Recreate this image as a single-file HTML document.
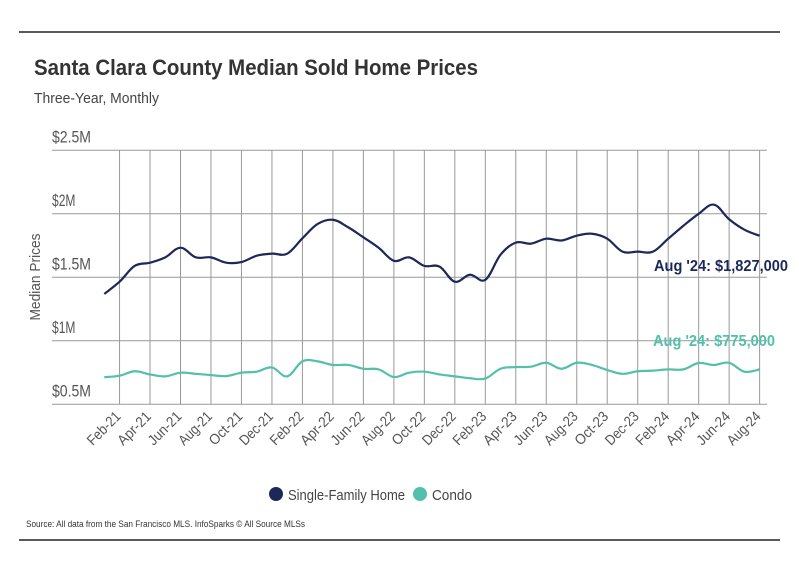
<!DOCTYPE html>
<html><head><meta charset="utf-8"><style>
html,body{margin:0;padding:0;background:#fff;}
svg{display:block;font-family:"Liberation Sans",sans-serif;}
</style></head><body>
<svg id="chart" width="799" height="575" viewBox="0 0 799 575">
<line x1="19" y1="32" x2="780" y2="32" stroke="#222" stroke-width="1.5"/>
<text x="34" y="75" font-size="22" font-weight="bold" fill="#333" textLength="444" lengthAdjust="spacingAndGlyphs">Santa Clara County Median Sold Home Prices</text>
<text x="34" y="103" font-size="15" fill="#444" textLength="125" lengthAdjust="spacingAndGlyphs">Three-Year, Monthly</text>
<text transform="translate(40,277) rotate(-90)" text-anchor="middle" font-size="15" fill="#555" textLength="87" lengthAdjust="spacingAndGlyphs">Median Prices</text>
<g id="grid"></g>
<g id="series"></g>
<text x="654" y="271" font-size="16" font-weight="bold" fill="#1c2859" textLength="134" lengthAdjust="spacingAndGlyphs">Aug '24: $1,827,000</text>
<text x="653" y="346" font-size="16" font-weight="bold" fill="#52c0aa" textLength="122" lengthAdjust="spacingAndGlyphs">Aug '24: $775,000</text>
<g>
<circle cx="276" cy="494" r="7" fill="#1c2859"/>
<text x="288" y="500" font-size="15" fill="#444" textLength="117" lengthAdjust="spacingAndGlyphs">Single-Family Home</text>
<circle cx="420" cy="494" r="7" fill="#52c0aa"/>
<text x="432" y="500" font-size="15" fill="#444" textLength="40" lengthAdjust="spacingAndGlyphs">Condo</text>
</g>
<text x="26" y="527" font-size="9" fill="#333" textLength="279" lengthAdjust="spacingAndGlyphs">Source:  All data from the San Francisco MLS. InfoSparks © All Source MLSs</text>
<line x1="19" y1="540" x2="780" y2="540" stroke="#222" stroke-width="1.5"/>
</svg>
<script>
const months = ["Jan-21","Feb-21","Mar-21","Apr-21","May-21","Jun-21","Jul-21","Aug-21","Sep-21","Oct-21","Nov-21","Dec-21","Jan-22","Feb-22","Mar-22","Apr-22","May-22","Jun-22","Jul-22","Aug-22","Sep-22","Oct-22","Nov-22","Dec-22","Jan-23","Feb-23","Mar-23","Apr-23","May-23","Jun-23","Jul-23","Aug-23","Sep-23","Oct-23","Nov-23","Dec-23","Jan-24","Feb-24","Mar-24","Apr-24","May-24","Jun-24","Jul-24","Aug-24"];
const sfhValues = [1.369,1.465,1.59,1.615,1.657,1.733,1.657,1.657,1.615,1.62,1.67,1.686,1.686,1.807,1.92,1.953,1.894,1.815,1.733,1.63,1.657,1.59,1.584,1.465,1.52,1.48,1.678,1.773,1.765,1.804,1.79,1.828,1.843,1.804,1.702,1.702,1.702,1.804,1.906,2.0,2.072,1.957,1.875,1.827];
const condoValues = [0.713,0.725,0.76,0.735,0.72,0.749,0.74,0.73,0.722,0.749,0.757,0.79,0.72,0.838,0.838,0.81,0.81,0.78,0.775,0.715,0.749,0.757,0.735,0.72,0.705,0.703,0.78,0.793,0.796,0.827,0.78,0.827,0.81,0.77,0.74,0.76,0.765,0.775,0.775,0.825,0.81,0.827,0.757,0.775];
const yTicks = [0.5,1,1.5,2,2.5];
const yTickLabels = ["$0.5M","$1M","$1.5M","$2M","$2.5M"];

const NS="http://www.w3.org/2000/svg";
const x0=104.3, dx=15.24, yBase=404.3, pxPerM=127;
const xs=i=>x0+i*dx;
const ys=v=>yBase-(v-0.5)*pxPerM;
const grid=document.getElementById('grid'), series=document.getElementById('series');
function mk(tag,attrs,parent){const e=document.createElementNS(NS,tag);for(const k in attrs)e.setAttribute(k,attrs[k]);parent.appendChild(e);return e;}

yTicks.forEach((t,i)=>{
  const l=mk('line',{x1:52,x2:767,y1:ys(t),y2:ys(t),stroke:'#999','stroke-width':1},grid);
  
  
  const tx=mk('text',{x:52,y:ys(t)-8,'font-size':17,fill:'#555',textLength:yTickLabels[i].length*7.8,lengthAdjust:'spacingAndGlyphs'},grid);
  tx.textContent=yTickLabels[i];
  
  
});
months.forEach((m,i)=>{
  if(i%2===0) return;
  const x=xs(i);
  const l=mk('line',{x1:x,x2:x,y1:ys(2.5),y2:yBase,stroke:'#999','stroke-width':1},grid);
  
  
  const tx=mk('text',{transform:`translate(${x+2},${yBase+13}) rotate(-45)`,'text-anchor':'end','font-size':14.5,fill:'#555',textLength:m.length*6.8,lengthAdjust:'spacingAndGlyphs'},grid);
  tx.textContent=m;
  
  
});
function smooth(vals){
  const p=vals.map((v,i)=>[xs(i),ys(v)]);
  let d=`M${p[0][0]},${p[0][1]}`;
  for(let i=0;i<p.length-1;i++){
    const a=p[i-1]||p[i],b=p[i],c=p[i+1],e=p[i+2]||c;
    const t=0.18;
    d+=` C${b[0]+(c[0]-a[0])*t},${b[1]+(c[1]-a[1])*t} ${c[0]-(e[0]-b[0])*t},${c[1]-(e[1]-b[1])*t} ${c[0]},${c[1]}`;
  }
  return d;
}
const s1=mk('path',{d:smooth(sfhValues),fill:'none',stroke:'#1c2859','stroke-width':2.2},series);


const s2=mk('path',{d:smooth(condoValues),fill:'none',stroke:'#52c0aa','stroke-width':2.2},series);


</script>
</body></html>
